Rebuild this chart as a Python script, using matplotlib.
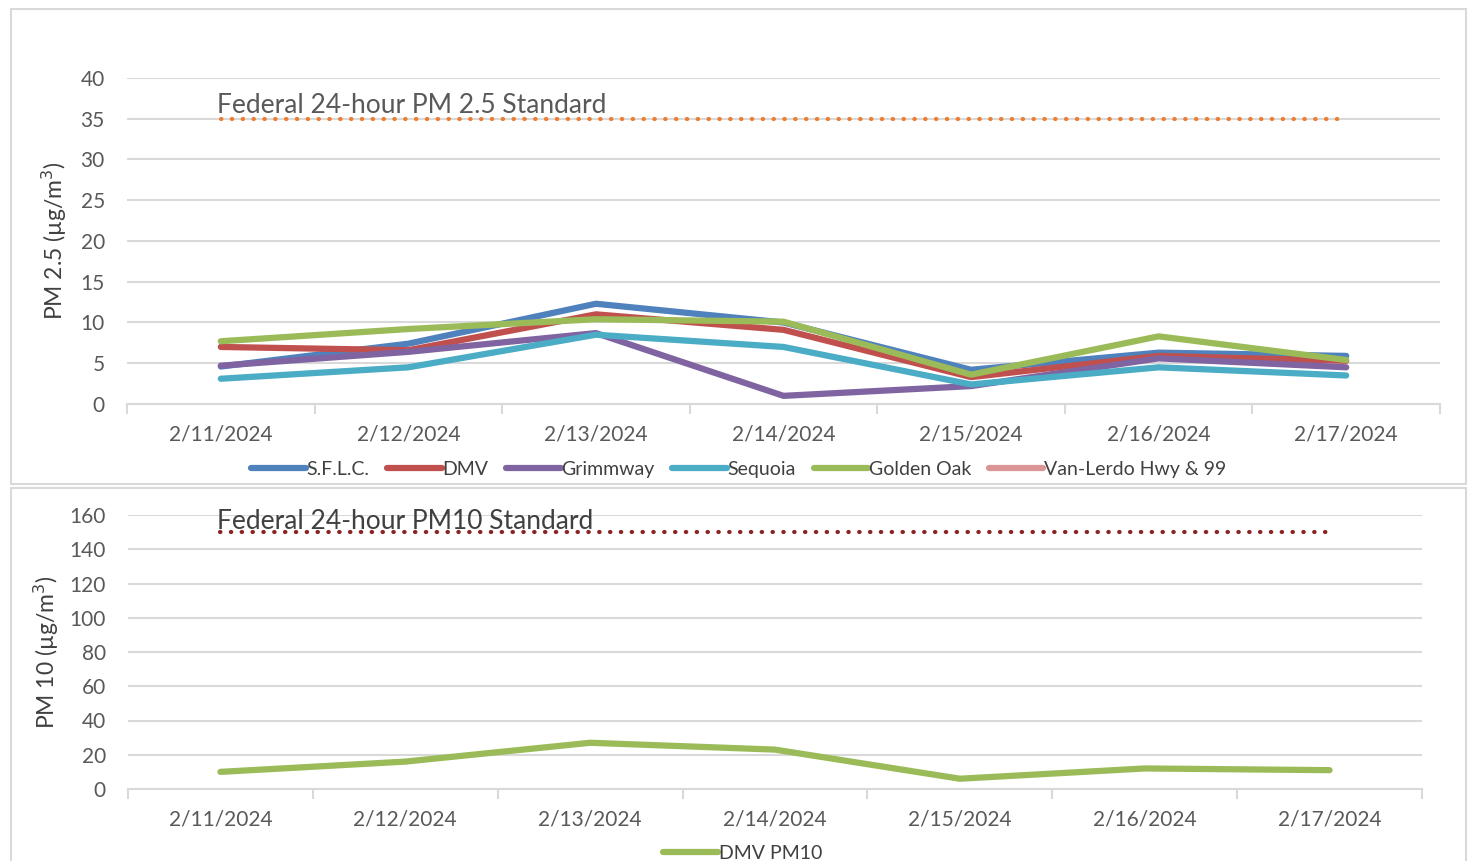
import matplotlib.pyplot as plt
from matplotlib.patches import Rectangle
import numpy as np

plt.rcParams['font.family'] = ['Lato', 'DejaVu Sans']

dates = ['2/11/2024', '2/12/2024', '2/13/2024', '2/14/2024',
         '2/15/2024', '2/16/2024', '2/17/2024']

sflc = [4.6, 7.4, 12.3, 10.0, 4.2, 6.3, 5.9]
dmv = [7.0, 6.6, 11.0, 9.1, 3.3, 5.9, 5.3]
grimmway = [4.7, 6.4, 8.7, 1.0, 2.2, 5.6, 4.5]
sequoia = [3.1, 4.5, 8.5, 7.0, 2.4, 4.5, 3.5]
golden_oak = [7.7, 9.2, 10.4, 10.1, 3.6, 8.3, 5.4]
van_lerdo = [np.nan] * 7
pm25_standard = [35] * 7

dmv_pm10 = [10, 16, 27, 23, 6, 12, 11]
pm10_standard = [150] * 7

names = ['S.F.L.C.', 'DMV', 'Grimmway', 'Sequoia', 'Golden Oak', 'Van-Lerdo Hwy & 99']
colors = ['#4f81bd', '#c0504d', '#8064a2', '#4bacc6', '#9bbb59', '#d99694']

grid_c = '#d9d9d9'
text_c = '#595959'

fig = plt.figure(figsize=(14.7, 8.61), dpi=100)

# chart frames
fig.patches.append(Rectangle((11 / 1470, 1 - 484 / 861), 1455 / 1470, 475 / 861,
                             transform=fig.transFigure, fill=False, ec=grid_c, lw=1.5))
fig.patches.append(Rectangle((11 / 1470, -0.05), 1455 / 1470, 1 - 488 / 861 + 0.05,
                             transform=fig.transFigure, fill=False, ec=grid_c, lw=1.5))


def style_axis(ax, ymax, step):
    x = np.arange(len(dates))
    ax.set_xlim(-0.5, len(dates) - 0.5)
    ax.set_ylim(0, ymax)
    ax.set_yticks(np.arange(0, ymax + 1, step))
    ax.set_xticks(x)
    ax.set_xticklabels(dates)
    ax.set_xticks(np.arange(-0.5, len(dates)), minor=True)
    ax.tick_params(axis='x', which='major', length=0, pad=15, labelsize=15, labelcolor=text_c)
    ax.tick_params(axis='x', which='minor', length=7, color=grid_c, width=1.5)
    ax.tick_params(axis='y', length=0, pad=16, labelsize=15, labelcolor=text_c)
    ax.grid(axis='y', color=grid_c, lw=1.5)
    ax.set_axisbelow(True)
    for s in ['top', 'right', 'left']:
        ax.spines[s].set_visible(False)
    ax.spines['bottom'].set_color(grid_c)
    ax.spines['bottom'].set_linewidth(1.5)
    return x


# PM 2.5 panel
ax1 = fig.add_axes([127 / 1470, 1 - 404 / 861, 1313 / 1470, 326 / 861])
x = style_axis(ax1, 40, 5)
series = [sflc, dmv, grimmway, sequoia, golden_oak, van_lerdo]
for vals, name, c in zip(series, names, colors):
    ax1.plot(x, vals, color=c, lw=4.5, label=name, solid_capstyle='round')
ax1.plot(x, pm25_standard, color='#ed7d31', lw=3, ls=(0, (0.1, 2.5)),
         dash_capstyle='round')
ax1.text(-0.02, 35.05, 'Federal 24-hour PM 2.5 Standard', fontsize=19, color=text_c,
         ha='left', va='bottom')
ax1.set_ylabel('PM 2.5 (µg/m$^3$)', fontsize=16.5, color='#404040', labelpad=8)
ax1.legend(loc='upper center', bbox_to_anchor=(0.466, -0.12), ncol=6, frameon=False,
           fontsize=14, handlelength=2.8, handletextpad=0.05, columnspacing=0.9,
           labelcolor='#404040')

# PM 10 panel
ax2 = fig.add_axes([128 / 1470, 1 - 789 / 861, 1294 / 1470, 274 / 861])
x = style_axis(ax2, 160, 20)
ax2.plot(x, dmv_pm10, color='#9bbb59', lw=4.5, label='DMV PM10', solid_capstyle='round')
ax2.plot(x, pm10_standard, color='#8b2323', lw=3, ls=(0, (0.1, 2.5)),
         dash_capstyle='round')
ax2.text(-0.02, 149, 'Federal 24-hour PM10 Standard', fontsize=19, color='#404040',
         ha='left', va='bottom')
ax2.set_ylabel('PM 10 (µg/m$^3$)', fontsize=16.5, color='#404040', labelpad=6)
ax2.legend(loc='upper center', bbox_to_anchor=(0.475, -0.16), ncol=1, frameon=False,
           fontsize=14, handlelength=2.8, handletextpad=0.05, labelcolor='#404040',
           borderpad=0.1)

fig.savefig('out.png', dpi=100)
